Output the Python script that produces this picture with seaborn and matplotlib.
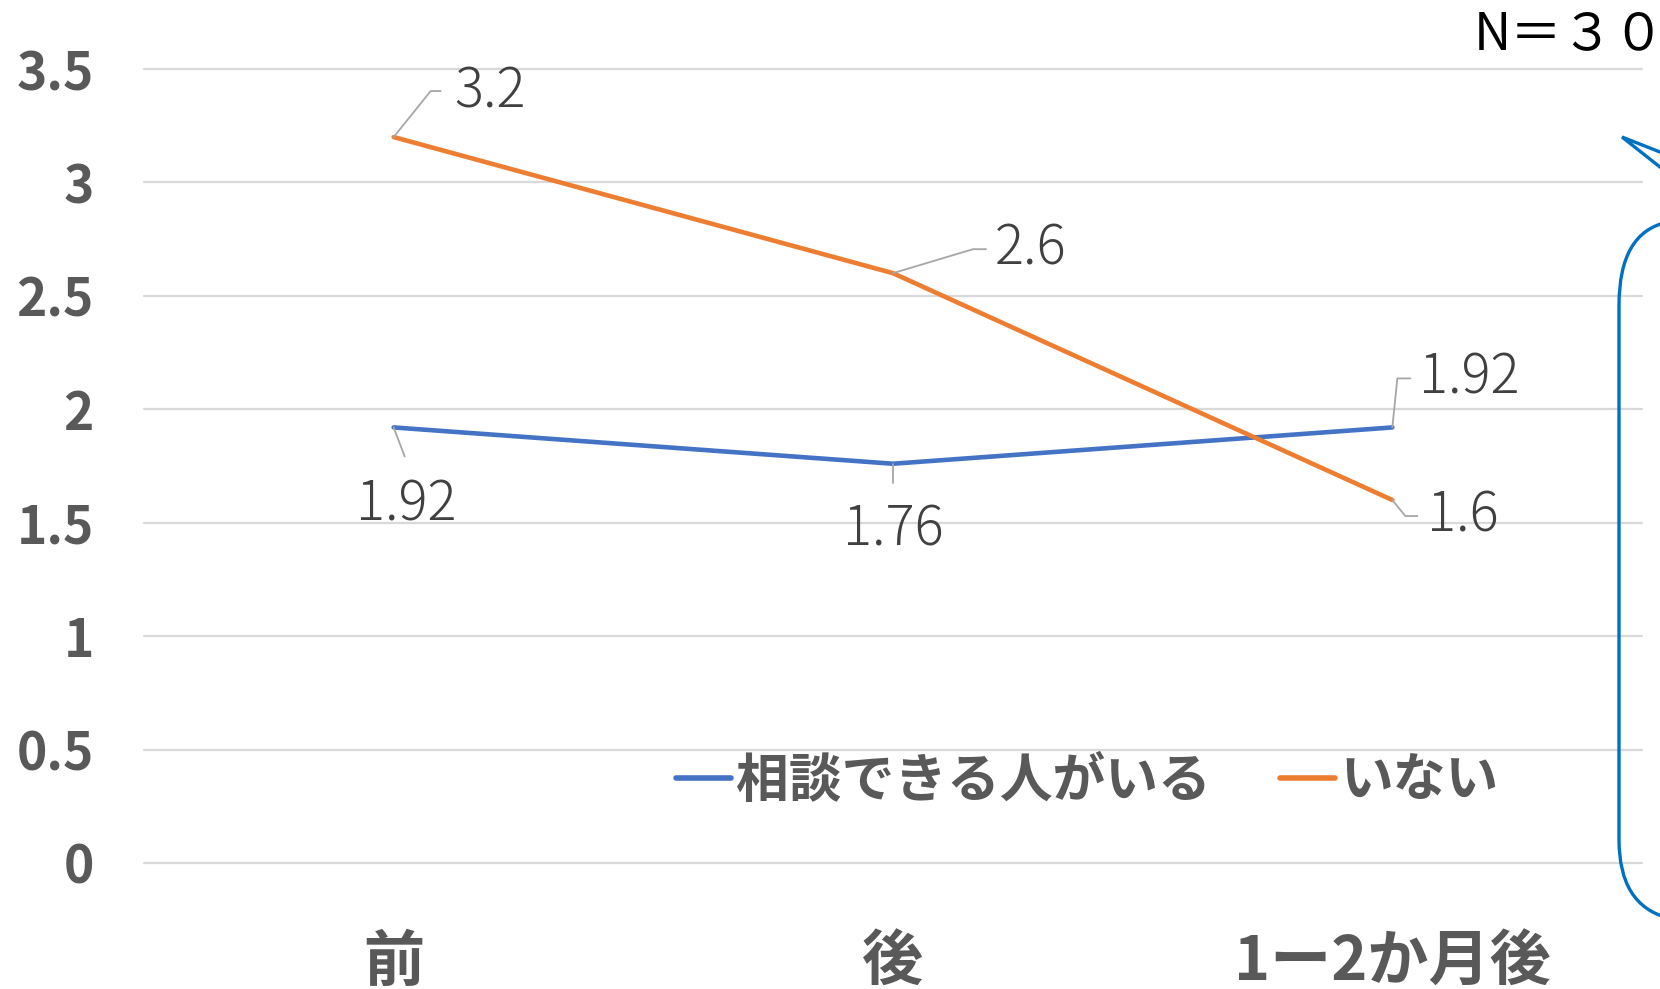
import numpy as np
import pandas as pd
import matplotlib
matplotlib.use("Agg")
import matplotlib.pyplot as plt
import seaborn as sns
from matplotlib.transforms import IdentityTransform
from matplotlib.path import Path
from matplotlib.patches import PathPatch
from matplotlib.lines import Line2D

categories = ["前", "後", "1ー2か月後"]
series_names = ["相談できる人がいる", "いない"]
blue_vals = [1.92, 1.76, 1.92]
orange_vals = [3.2, 2.6, 1.6]
blue_labels = ["1.92", "1.76", "1.92"]
orange_labels = ["3.2", "2.6", "1.6"]
y_ticks = [0, 0.5, 1, 1.5, 2, 2.5, 3, 3.5]
y_ticklabels = ["0", "0.5", "1", "1.5", "2", "2.5", "3", "3.5"]

sns.set_theme(style="white")
plt.rcParams['font.family'] = ['Noto Sans CJK JP', 'DejaVu Sans']

W, H = 1660, 989
fig = plt.figure(figsize=(W / 100, H / 100), dpi=100)
fig.patch.set_facecolor("white")

# axes: x from 144 to 1642 px, y 0 at 863 px, 3.5 at 69 px
ax = fig.add_axes([144 / W, 1 - 863 / H, (1642 - 144) / W, (863 - 69) / H])
ax.set_facecolor("white")

df = pd.DataFrame({
    "cat": categories * 2,
    "val": blue_vals + orange_vals,
    "series": [series_names[0]] * 3 + [series_names[1]] * 3,
})
palette = {series_names[0]: "#4472C4", series_names[1]: "#ED7D31"}
sns.lineplot(data=df, x="cat", y="val", hue="series", palette=palette,
             sort=False, ax=ax, linewidth=3.3, legend=False)
for ln in ax.get_lines():
    ln.set_solid_capstyle("round")
    ln.set_zorder(3)

ax.set_xlim(-0.5, 2.5)
ax.set_ylim(0, 3.5)
ax.set_yticks(y_ticks)
ax.set_yticklabels(y_ticklabels)
ax.set_xlabel("")
ax.set_ylabel("")
for s in ax.spines.values():
    s.set_visible(False)
for yv in y_ticks:
    ax.axhline(yv, color="#D9D9D9", lw=1.6, zorder=1, clip_on=False)
ax.tick_params(axis="y", length=0, pad=36, labelsize=37, labelcolor="#595959")
ax.tick_params(axis="x", length=0, pad=50, labelsize=44, labelcolor="#595959")
for t in ax.get_yticklabels():
    t.set_fontweight("bold")
for t in ax.get_xticklabels():
    t.set_fontweight("bold")

# legend
handles = [Line2D([0], [0], color="#4472C4", lw=4, solid_capstyle="round"),
           Line2D([0], [0], color="#ED7D31", lw=4, solid_capstyle="round")]
leg = fig.legend(handles, series_names, loc="center",
                 bbox_to_anchor=(1087 / W, 1 - 781 / H), ncol=2, frameon=False,
                 prop={"size": 38, "weight": "bold"}, handlelength=1.05,
                 handletextpad=0.1, columnspacing=1.3)
for t in leg.get_texts():
    t.set_color("#595959")

# data labels with leader lines (offsets in image pixels, y downward)
fig.canvas.draw()
ident = IdentityTransform()
lead_col = "#A6A6A6"
label_specs = [
    (0, orange_vals[0], orange_labels[0], [(0, 0), (37, -46), (47, -46)], (61, -45), "left"),
    (1, orange_vals[1], orange_labels[1], [(0, 0), (80, -24), (93, -24)], (102, -24), "left"),
    (2, orange_vals[2], orange_labels[2], [(0, 0), (13, 16), (25, 16)], (35, 16), "left"),
    (0, blue_vals[0], blue_labels[0], [(0, 0), (11, 29)], (13, 78), "center"),
    (1, blue_vals[1], blue_labels[1], [(0, 0), (0, 19)], (0, 66), "center"),
    (2, blue_vals[2], blue_labels[2], [(0, 0), (5, -49), (18, -49)], (27, -49), "left"),
]
for xi, v, txt, pts, toff, ha in label_specs:
    px, py = ax.transData.transform((xi, v))
    xs = [px + dx for dx, dy in pts]
    ys = [py - dy for dx, dy in pts]
    fig.add_artist(Line2D(xs, ys, transform=ident, color=lead_col, lw=1.3, zorder=2))
    fig.text(px + toff[0], py - toff[1], txt, transform=ident, ha=ha, va="center",
             fontsize=39, fontweight="light", color="#404040")

# N=30 text
fig.text(1474 / W, 1 - 34 / H, "N＝３０", ha="left", va="center",
         fontsize=37, color="black")

# callout shape (partially visible at right edge)
def fp(x, y):
    return (x / W, 1 - y / H)

verts = [fp(1665, 154), fp(1622, 137), fp(1665, 171)]
codes = [Path.MOVETO, Path.LINETO, Path.LINETO]
fig.add_artist(PathPatch(Path(verts, codes), transform=fig.transFigure,
                         fill=False, edgecolor="#0070C0", lw=2.4))
verts2 = [fp(1668, 222), fp(1619, 232), fp(1619, 305), fp(1619, 840),
          fp(1619, 905), fp(1668, 918)]
codes2 = [Path.MOVETO, Path.CURVE3, Path.CURVE3, Path.LINETO, Path.CURVE3, Path.CURVE3]
fig.add_artist(PathPatch(Path(verts2, codes2), transform=fig.transFigure,
                         fill=False, edgecolor="#0070C0", lw=2.4))

fig.savefig("out.png", dpi=100, facecolor="white")
